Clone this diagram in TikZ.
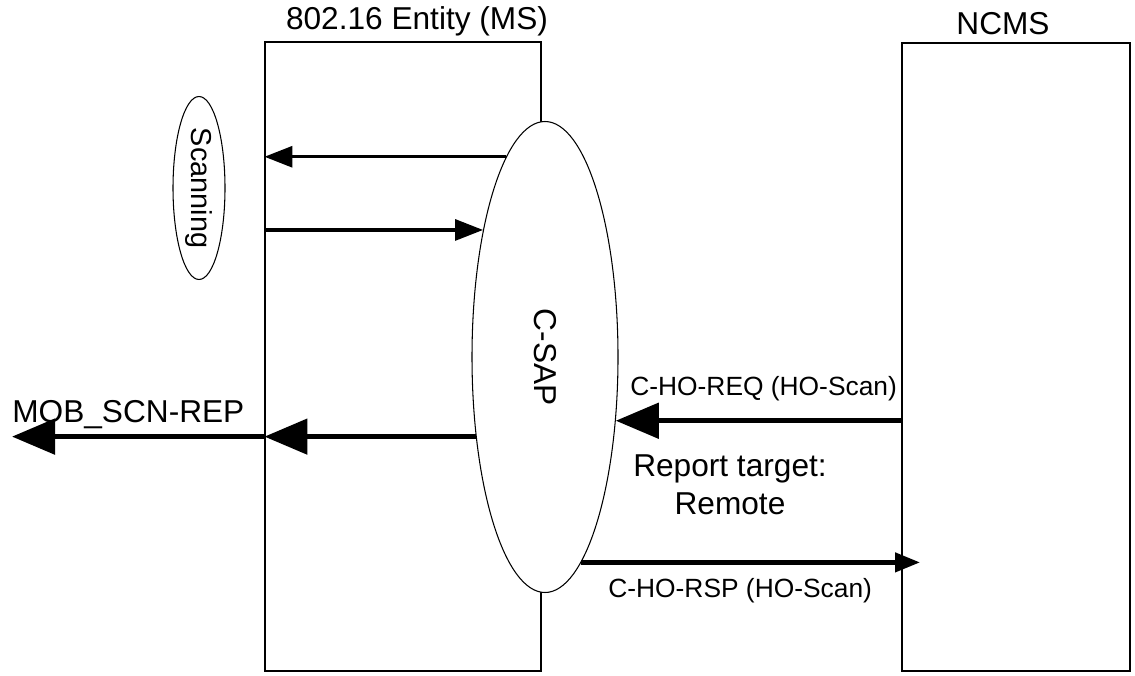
\documentclass[tikz,border=0pt]{standalone}
\usepackage{fontspec}
\setmainfont{Liberation Sans}
\usetikzlibrary{arrows.meta,shapes.geometric}

\begin{document}
\begin{tikzpicture}[
	box/.style = {draw, line width=0.6pt, inner sep=0pt},
	sap/.style = {ellipse, draw, fill=white, line width=0.6pt, inner sep=0pt},
	sig/.style = {line width=1.8pt, -{Triangle[length=0.56cm,width=0.42cm]}},
	bigsig/.style = {line width=2.9pt, -{Triangle[length=0.86cm,width=0.7cm]}},
	rspsig/.style = {line width=2.5pt, -{Triangle[length=0.5cm,width=0.38cm]}},
	lbl/.style = {font=\fontsize{18}{21.6}\selectfont, inner sep=0pt},
	smalllbl/.style = {font=\fontsize{15}{18}\selectfont, inner sep=0pt}
]
				\fill[white] (0, 0) rectangle (22.7, 13.5);

				\node[box, minimum width=5.52cm, minimum height=12.58cm] (ms) at (8.06, 6.37) {};
				\node[box, minimum width=4.56cm, minimum height=12.56cm] (ncms) at (20.32, 6.36) {};
				\node[lbl, anchor=base] (mstitle) at (8.34, 12.9) {802.16 Entity (MS)};
				\node[lbl, anchor=base] (ncmstitle) at (20.06, 12.8) {NCMS};

				\node[sap, minimum width=1.04cm, minimum height=3.66cm, font=\fontsize{16.4}{19}\selectfont] (scan) at (3.98, 9.74) {\rotatebox{-90}{Scanning}};
				\node[sap, minimum width=2.92cm, minimum height=9.42cm, font=\fontsize{18}{21.6}\selectfont] (csap) at (10.9, 6.36) {\rotatebox{-90}{C-SAP}};

				\draw[sig] (csap.101) to (csap.101 -| ms.west);
				\draw[sig] (csap.116 -| ms.west) to (csap.116);

				\coordinate (mobend) at (0.24, 4.76);
				\draw[bigsig] (csap.229) to (csap.229 -| ms.west);
				\draw[bigsig] (csap.229 -| ms.west) to (csap.229 -| mobend);
				\node[lbl, anchor=base west] (moblbl) at (0.24, 5.06) {MOB\_SCN-REP};

				\draw[bigsig] (csap.318 -| ncms.west) to (csap.318);
				\node[smalllbl, anchor=base west] (reqlbl) at (12.6, 5.6) {C-HO-REQ (HO-Scan)};

				\node[lbl, align=center] (target) at (14.6, 3.8) {Report target:\\Remote};

				\coordinate (rspend) at (18.4, 2.32);
				\draw[rspsig] (csap.280.5) to (csap.280.5 -| rspend);
				\node[smalllbl, anchor=base west] (rsplbl) at (12.16, 1.56) {C-HO-RSP (HO-Scan)};
			\end{tikzpicture}
\end{document}
